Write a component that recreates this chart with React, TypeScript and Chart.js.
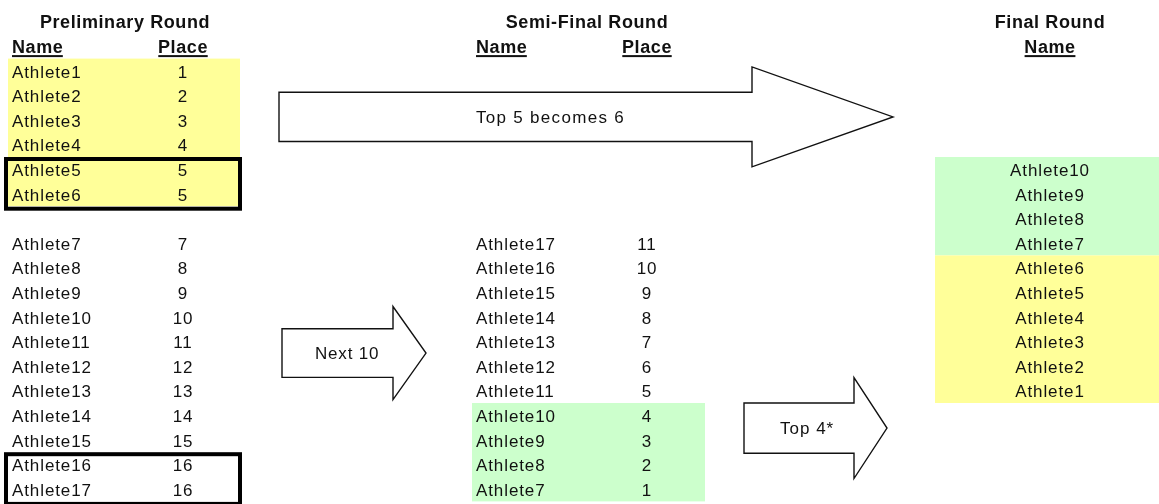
import React, { useEffect, useRef } from "react";
import { Chart, registerables } from "chart.js";

Chart.register(...registerables);

// ---- data ----
const roundTitles = ["Preliminary Round", "Semi-Final Round", "Final Round"];
const headerLabels = ["Name", "Place"];
const prelimNames = [
  "Athlete1", "Athlete2", "Athlete3", "Athlete4", "Athlete5", "Athlete6",
  "Athlete7", "Athlete8", "Athlete9", "Athlete10", "Athlete11", "Athlete12",
  "Athlete13", "Athlete14", "Athlete15", "Athlete16", "Athlete17",
];
const prelimPlaces = [1, 2, 3, 4, 5, 5, 7, 8, 9, 10, 11, 12, 13, 14, 15, 16, 16];
const semiNames = [
  "Athlete17", "Athlete16", "Athlete15", "Athlete14", "Athlete13", "Athlete12",
  "Athlete11", "Athlete10", "Athlete9", "Athlete8", "Athlete7",
];
const semiPlaces = [11, 10, 9, 8, 7, 6, 5, 4, 3, 2, 1];
const finalNames = [
  "Athlete10", "Athlete9", "Athlete8", "Athlete7", "Athlete6",
  "Athlete5", "Athlete4", "Athlete3", "Athlete2", "Athlete1",
];
const arrowLabels = ["Top 5 becomes 6", "Next 10", "Top 4*"];

// ---- layout (x in page px, y in spreadsheet rows) ----
const W = 1159;
const H = 504;
const ROW0 = 21.7;
const ROWH = 24.6;
const Y_MIN = -ROW0 / ROWH;
const Y_MAX = Y_MIN + H / ROWH;

const PRE_NAME_X = 12;
const PRE_PLACE_X = 183;
const SEMI_NAME_X = 476;
const SEMI_PLACE_X = 647;
const FINAL_X = 1050;
const TITLE_X = [125, 587, 1050];

const prelimRow = (i: number) => (i < 6 ? 2 + i : 3 + i);
const semiRow = (i: number) => 9 + i;
const finalRow = (i: number) => 6 + i;

const YELLOW = "#FFFF99";
const GREEN = "#CCFFCC";
const INK = "#111111";
const FONT = '"Liberation Sans", Arial, sans-serif';

type Cell = { x: number; y: number };

const mk = (
  label: string,
  xs: number[],
  rows: number[],
  texts: (string | number)[],
  align: CanvasTextAlign,
  bold = false,
  underline = false
) => ({
  label,
  data: rows.map((r, i) => ({ x: xs[Math.min(i, xs.length - 1)], y: r })) as Cell[],
  texts: texts.map(String),
  align,
  bold,
  underline,
  pointRadius: 0,
  showLine: false,
});

const fills: { x0: number; x1: number; r0: number; r1: number; color: string }[] = [
  { x0: 8, x1: 240, r0: 2, r1: 7, color: YELLOW },
  { x0: 472, x1: 705, r0: 16, r1: 19, color: GREEN },
  { x0: 935, x1: W, r0: 6, r1: 9, color: GREEN },
  { x0: 935, x1: W, r0: 10, r1: 15, color: YELLOW },
];

const boxes: { x0: number; x1: number; r0: number; r1: number }[] = [
  { x0: 6, x1: 240, r0: 6, r1: 7 },
  { x0: 6, x1: 240, r0: 18, r1: 19 },
];

const arrows = [
  { x0: 279, xb: 752, xt: 893, c: 3.87, sh: 1.0, hh: 2.03, tx: 476, ls: 1.3 },
  { x0: 282, xb: 393, xt: 426, c: 13.47, sh: 0.99, hh: 1.89, tx: 315, ls: 0.8 },
  { x0: 744, xb: 854, xt: 887, c: 16.52, sh: 1.02, hh: 2.05, tx: 780, ls: 1.0 },
];

const diagramPlugin = {
  id: "diagram",
  beforeDatasetsDraw(chart: any) {
    const ctx = chart.ctx as CanvasRenderingContext2D;
    const xs = chart.scales.x;
    const ys = chart.scales.y;
    ctx.save();
    for (const f of fills) {
      const l = xs.getPixelForValue(f.x0);
      const r = xs.getPixelForValue(f.x1);
      const t = ys.getPixelForValue(f.r0 - 0.5);
      const b = ys.getPixelForValue(f.r1 + 0.5);
      ctx.fillStyle = f.color;
      ctx.fillRect(l, t, r - l, b - t);
    }
    ctx.lineWidth = 1.4;
    ctx.strokeStyle = INK;
    arrows.forEach((a, i) => {
      const X0 = xs.getPixelForValue(a.x0);
      const XB = xs.getPixelForValue(a.xb);
      const XT = xs.getPixelForValue(a.xt);
      const st = ys.getPixelForValue(a.c - a.sh);
      const sb = ys.getPixelForValue(a.c + a.sh);
      const ht = ys.getPixelForValue(a.c - a.hh);
      const hb = ys.getPixelForValue(a.c + a.hh);
      const cy = ys.getPixelForValue(a.c);
      ctx.beginPath();
      ctx.moveTo(X0, st);
      ctx.lineTo(XB, st);
      ctx.lineTo(XB, ht);
      ctx.lineTo(XT, cy);
      ctx.lineTo(XB, hb);
      ctx.lineTo(XB, sb);
      ctx.lineTo(X0, sb);
      ctx.closePath();
      ctx.fillStyle = "#ffffff";
      ctx.fill();
      ctx.stroke();
      ctx.fillStyle = INK;
      ctx.font = `17px ${FONT}`;
      (ctx as any).letterSpacing = `${a.ls}px`;
      ctx.textAlign = "left";
      ctx.textBaseline = "alphabetic";
      ctx.fillText(arrowLabels[i], xs.getPixelForValue(a.tx), cy + 6.4);
    });
    ctx.restore();
  },
  afterDatasetsDraw(chart: any) {
    const ctx = chart.ctx as CanvasRenderingContext2D;
    const xs = chart.scales.x;
    const ys = chart.scales.y;
    ctx.save();
    chart.data.datasets.forEach((ds: any, di: number) => {
      const meta = chart.getDatasetMeta(di);
      ctx.font = ds.bold ? `bold 18px ${FONT}` : `17px ${FONT}`;
      const ls = ds.bold ? 0.6 : 0.9;
      (ctx as any).letterSpacing = `${ls}px`;
      ctx.fillStyle = INK;
      ctx.textAlign = ds.align;
      ctx.textBaseline = "alphabetic";
      meta.data.forEach((pt: any, i: number) => {
        const t = ds.texts[i];
        const base = pt.y + 6.6;
        ctx.fillText(t, pt.x, base);
        if (ds.underline) {
          const w = ctx.measureText(t).width - ls;
          let l = pt.x;
          if (ds.align === "center") l = pt.x - w / 2;
          else if (ds.align === "right") l = pt.x - w;
          ctx.fillRect(l, base + 2.2, w, 2);
        }
      });
    });
    ctx.lineWidth = 4;
    ctx.strokeStyle = "#000000";
    for (const b of boxes) {
      const l = xs.getPixelForValue(b.x0);
      const r = xs.getPixelForValue(b.x1);
      const t = ys.getPixelForValue(b.r0 - 0.5) + 2;
      const bt = ys.getPixelForValue(b.r1 + 0.5) + 2.5;
      ctx.strokeRect(l, t, r - l, bt - t);
    }
    ctx.restore();
  },
};

export default function App() {
  const ref = useRef<HTMLCanvasElement | null>(null);
  useEffect(() => {
    if (!ref.current) return;
    const datasets: any[] = [
      mk("titles", TITLE_X, [0, 0, 0], roundTitles, "center", true),
      mk("prelimNameHdr", [PRE_NAME_X], [1], [headerLabels[0]], "left", true, true),
      mk("prelimPlaceHdr", [PRE_PLACE_X], [1], [headerLabels[1]], "center", true, true),
      mk("semiNameHdr", [SEMI_NAME_X], [1], [headerLabels[0]], "left", true, true),
      mk("semiPlaceHdr", [SEMI_PLACE_X], [1], [headerLabels[1]], "center", true, true),
      mk("finalNameHdr", [FINAL_X], [1], [headerLabels[0]], "center", true, true),
      mk("prelimNames", [PRE_NAME_X], prelimNames.map((_, i) => prelimRow(i)), prelimNames, "left"),
      mk("prelimPlaces", [PRE_PLACE_X], prelimPlaces.map((_, i) => prelimRow(i)), prelimPlaces, "center"),
      mk("semiNames", [SEMI_NAME_X], semiNames.map((_, i) => semiRow(i)), semiNames, "left"),
      mk("semiPlaces", [SEMI_PLACE_X], semiPlaces.map((_, i) => semiRow(i)), semiPlaces, "center"),
      mk("finalNames", [FINAL_X], finalNames.map((_, i) => finalRow(i)), finalNames, "center"),
    ];

    const chart = new Chart(ref.current, {
      type: "scatter",
      data: { datasets },
      options: {
        animation: false,
        responsive: false,
        events: [],
        layout: { padding: 0 },
        plugins: { legend: { display: false }, tooltip: { enabled: false }, title: { display: false } },
        scales: {
          x: { type: "linear", min: 0, max: W, display: false },
          y: { type: "linear", min: Y_MIN, max: Y_MAX, reverse: true, display: false },
        },
      },
      plugins: [diagramPlugin],
    });
    return () => chart.destroy();
  }, []);

  return (
    <div style={{ position: "fixed", left: 0, top: 0, width: W, height: H, background: "#fff" }}>
      <canvas ref={ref} width={W} height={H} style={{ display: "block", width: W, height: H }} />
    </div>
  );
}
